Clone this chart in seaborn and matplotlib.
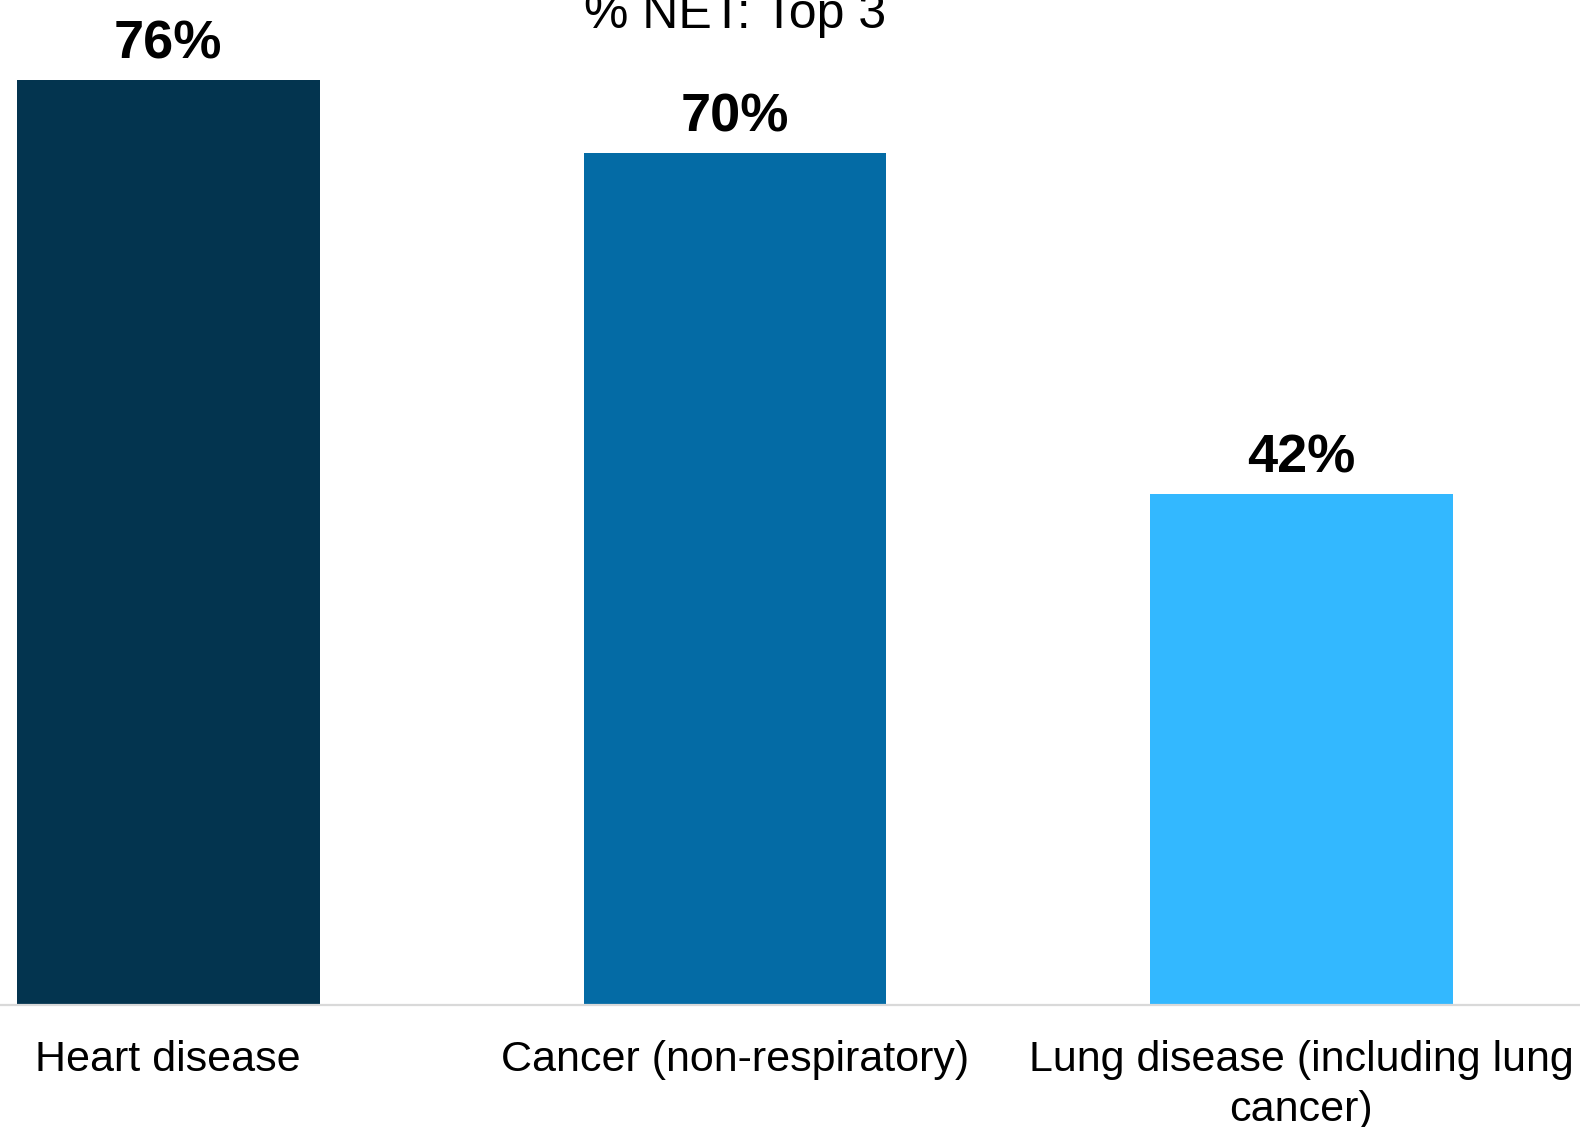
import matplotlib
matplotlib.use("Agg")
import matplotlib.pyplot as plt
import matplotlib.transforms as mtransforms
import seaborn as sns
import pandas as pd

categories = ["Heart disease", "Cancer (non-respiratory)", "Lung disease (including lung\ncancer)"]
values = [76, 70, 42]
value_labels = ["76%", "70%", "42%"]
colors = ["#03344F", "#046BA5", "#33B8FF"]
title = "% NET: Top 3"

sns.set_theme(style="white")
plt.rcParams["font.family"] = ["Liberation Sans", "DejaVu Sans"]

df = pd.DataFrame({"category": categories, "value": values})

fig = plt.figure(figsize=(15.8, 11.27), dpi=100)
ax = fig.add_axes([0.0, 0.1083, 1.0, 0.8917])

sns.barplot(data=df, x="category", y="value", hue="category",
            palette=colors, width=0.534, legend=False, ax=ax,
            saturation=1.0, edgecolor="none")

ax.set_xlim(-0.297, 2.492)
ax.set_ylim(0, 82.6)

for bar, lab in zip(ax.patches, value_labels):
    ax.annotate(lab, (bar.get_x() + bar.get_width() / 2, bar.get_height()),
                xytext=(0, 15.8), textcoords="offset points",
                ha="center", va="baseline", fontsize=39, fontweight="bold",
                color="black")

for s in ["top", "left", "right"]:
    ax.spines[s].set_visible(False)
ax.spines["bottom"].set_color("#D9D9D9")
ax.spines["bottom"].set_linewidth(1.6)

ax.set_yticks([])
ax.set_xlabel("")
ax.set_ylabel("")
ax.tick_params(axis="x", length=0, pad=25, labelsize=31, labelcolor="black")
for t in ax.get_xticklabels():
    t.set_multialignment("center")
    t.set_linespacing(1.32)

trans = mtransforms.blended_transform_factory(ax.transData, ax.transAxes)
ax.text(1, 0.972, title, transform=trans, ha="center", va="baseline",
        fontsize=36, color="black")

fig.savefig("out.png", dpi=100)
